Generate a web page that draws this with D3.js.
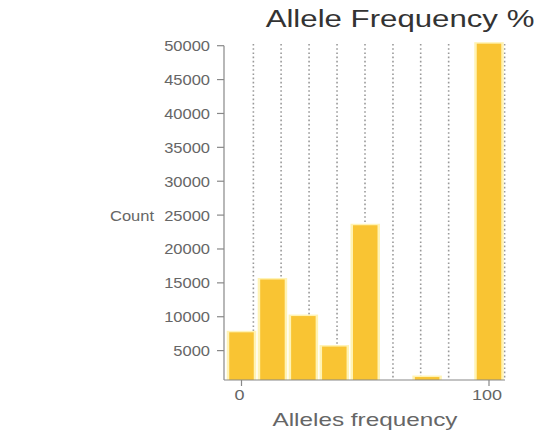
<!DOCTYPE html>
<html>
<head>
<meta charset="utf-8">
<script src="https://cdn.jsdelivr.net/npm/d3@7/dist/d3.min.js"></script>
<style>
  html, body { margin: 0; padding: 0; background: #fff; }
  svg { display: block; }
  text { font-family: "Liberation Sans", Arial, Helvetica, sans-serif; }
</style>
</head>
<body>
<svg id="chart" width="551" height="434"></svg>
<script>
// Histogram bins: centre of each allele-frequency bin (%) and its count
const binCenters = [0, 12.5, 25, 37.5, 50, 62.5, 75, 87.5, 100];
const binCounts  = [7700, 15500, 10100, 5600, 23500, 0, 1100, 0, 50300];

// Axis ticks
const yTicks = [5000, 10000, 15000, 20000, 25000, 30000, 35000, 40000, 45000, 50000];
const xTicks = [0, 100];
// Vertical dotted guide positions (frequency %)
const gridLines = [4.8, 16.0, 27.3, 38.6, 49.9, 61.2, 72.4, 83.7, 95.0, 106.3];

const title = "Allele Frequency %";
const xTitle = "Alleles frequency";
const yTitle = "Count";

const svg = d3.select("#chart");
const plot = { left: 224, right: 505, top: 44, bottom: 380 };

const x = d3.scaleLinear().domain([0, 100]).range([241.5, 489]);
const y = d3.scaleLinear().domain([0, 50000]).range([384.5, 45.7]);
const barW = 24.5;

// horizontally widened text helper
function label(px, py, str, opts) {
  const g = svg.append("g").attr("transform", `translate(${px},${py}) scale(${opts.sx || 1.3},1)`);
  g.append("text")
    .attr("text-anchor", opts.anchor || "middle")
    .attr("font-size", opts.size)
    .attr("fill", opts.color || "#555")
    .text(str);
}

// dotted vertical guides
svg.append("g").selectAll("line").data(gridLines).join("line")
  .attr("x1", d => x(d)).attr("x2", d => x(d))
  .attr("y1", plot.top).attr("y2", plot.bottom)
  .attr("stroke", "#999")
  .attr("stroke-width", 1.6)
  .attr("stroke-dasharray", "1.6,2.6");

const bins = binCenters.map((c, i) => ({ c, v: binCounts[i] })).filter(d => d.v > 0);

// soft pale halo behind bars
svg.append("g").selectAll("rect").data(bins).join("rect")
  .attr("x", d => x(d.c) - barW / 2 - 2.5)
  .attr("width", barW + 5)
  .attr("y", d => y(d.v) - 1.5)
  .attr("height", d => plot.bottom - y(d.v) + 1.5)
  .attr("fill", "#fff3b5");

// bars
svg.append("g").selectAll("rect").data(bins).join("rect")
  .attr("x", d => x(d.c) - barW / 2)
  .attr("width", barW)
  .attr("y", d => y(d.v))
  .attr("height", d => plot.bottom - y(d.v))
  .attr("fill", "#f9c433");

// y axis
const yAxis = svg.append("g");
yAxis.append("line")
  .attr("x1", plot.left).attr("x2", plot.left)
  .attr("y1", y(50000)).attr("y2", plot.bottom)
  .attr("stroke", "#888").attr("stroke-width", 1.2);
yAxis.selectAll("line.tick").data(yTicks).join("line")
  .attr("class", "tick")
  .attr("x1", plot.left - 7).attr("x2", plot.left)
  .attr("y1", d => y(d)).attr("y2", d => y(d))
  .attr("stroke", "#888").attr("stroke-width", 1.2);
yTicks.forEach(t => label(210, y(t) + 5.5, String(t), { anchor: "end", size: 15, sx: 1.1, color: "#666" }));

// x axis
svg.append("line")
  .attr("x1", plot.left).attr("x2", plot.right)
  .attr("y1", plot.bottom).attr("y2", plot.bottom)
  .attr("stroke", "#888").attr("stroke-width", 1.2);
svg.append("g").selectAll("line").data(xTicks).join("line")
  .attr("x1", d => x(d)).attr("x2", d => x(d))
  .attr("y1", plot.bottom).attr("y2", plot.bottom + 6)
  .attr("stroke", "#888").attr("stroke-width", 1.2);
xTicks.forEach(t => label(x(t) - 2, 400, String(t), { size: 15, sx: 1.2, color: "#666" }));

// titles
label(400, 27, title, { size: 24, color: "#333" });
label(365, 426, xTitle, { size: 18, sx: 1.35, color: "#666" });
label(154, 221, yTitle, { anchor: "end", size: 15, sx: 1.1, color: "#666" });
</script>
</body>
</html>
